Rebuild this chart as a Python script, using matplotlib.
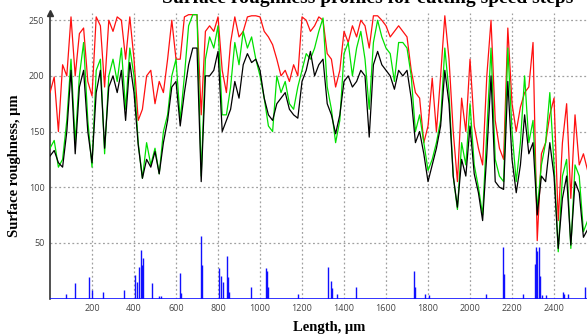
import matplotlib
matplotlib.use("Agg")
import matplotlib.pyplot as plt
import numpy as np

# profile sampled every 20 um along the trace
length = np.arange(0, 2561, 20)

red_profile = [185, 199, 150, 210, 200, 253, 200, 238, 243, 195,
               182, 253, 245, 190, 250, 240, 253, 250, 215, 253,
               215, 160, 170, 200, 205, 175, 195, 185, 215, 250,
               215, 215, 253, 255, 255, 255, 165, 240, 245, 240,
               253, 205, 185, 230, 253, 235, 240, 253, 254, 254,
               253, 240, 235, 228, 215, 200, 205, 195, 210, 200,
               253, 250, 240, 245, 253, 250, 220, 215, 190, 205,
               240, 230, 245, 235, 250, 245, 225, 254, 254, 250,
               245, 235, 240, 245, 240, 235, 205, 185, 180, 140,
               155, 198, 150, 200, 254, 215, 150, 105, 180, 150,
               215, 155, 135, 120, 200, 250, 160, 135, 125, 243,
               175, 150, 172, 185, 190, 230, 52, 130, 140, 165,
               180, 70, 140, 175, 90, 165, 120, 130, 115]

green_profile = [135, 142, 118, 125, 160, 215, 140, 200, 230, 160,
                 118, 205, 215, 130, 200, 215, 195, 225, 170, 225,
                 200, 140, 108, 140, 120, 135, 112, 150, 165, 200,
                 215, 160, 200, 245, 255, 255, 110, 215, 235, 225,
                 245, 165, 165, 190, 230, 210, 240, 225, 235, 215,
                 200, 180, 155, 150, 200, 185, 195, 175, 170, 190,
                 205, 220, 215, 225, 240, 252, 190, 170, 140, 160,
                 220, 230, 200, 225, 240, 215, 170, 230, 250, 235,
                 225, 220, 195, 230, 230, 225, 200, 150, 165, 140,
                 115, 125, 140, 160, 225, 185, 110, 80, 140, 120,
                 175, 120, 100, 75, 150, 225, 125, 110, 105, 225,
                 150, 105, 140, 200, 140, 160, 80, 120, 140, 185,
                 120, 42, 110, 125, 45, 120, 110, 60, 70]

black_profile = [128, 133, 122, 118, 150, 205, 130, 190, 205, 150,
                 122, 185, 205, 135, 190, 200, 185, 205, 160, 212,
                 185, 138, 108, 125, 118, 132, 112, 140, 160, 190,
                 195, 155, 185, 210, 225, 225, 105, 200, 200, 205,
                 222, 150, 160, 170, 195, 180, 210, 220, 212, 215,
                 205, 180, 165, 160, 175, 180, 185, 170, 165, 162,
                 195, 205, 222, 200, 210, 215, 175, 165, 148, 165,
                 195, 200, 190, 195, 205, 200, 145, 210, 222, 210,
                 205, 200, 188, 205, 200, 205, 180, 140, 150, 130,
                 105, 120, 135, 155, 205, 175, 110, 82, 125, 110,
                 155, 112, 95, 70, 130, 200, 105, 100, 98, 195,
                 125, 95, 120, 165, 130, 140, 75, 110, 105, 140,
                 110, 45, 90, 110, 48, 105, 95, 55, 62]

# isolated spikes of the bottom (blue) trace
spike_pos = [76, 119, 187, 198, 254, 354, 405, 415, 425, 433, 440, 445,
             487, 520, 530, 619, 625, 719, 722, 805, 815, 825, 841, 846,
             852, 957, 1029, 1034, 1040, 1179, 1322, 1336, 1344, 1365, 1457,
             1735, 1738, 1786, 1806, 2076, 2159, 2162, 2254, 2309, 2314,
             2320, 2327, 2333, 2341, 2360, 2441, 2447, 2468, 2547]
spike_height = [4, 14, 19, 8, 6, 8, 21, 15, 28, 44, 30, 36,
                14, 2, 2, 23, 5, 56, 30, 27, 20, 15, 38, 19,
                6, 10, 27, 25, 10, 4, 28, 16, 9, 4, 10,
                25, 10, 4, 3, 4, 46, 22, 4, 31, 46,
                43, 46, 20, 3, 3, 6, 4, 4, 10]

x_ticks = [200, 400, 600, 800, 1000, 1200, 1400, 1600, 1800, 2000, 2200, 2400]
y_ticks = [50, 100, 150, 200, 250]

W, H = 587, 336
fig = plt.figure(figsize=(W / 100, H / 100), dpi=100)
ax = fig.add_axes([50 / W, 37.5 / H, 558 / W, 285.5 / H])

ax.plot(length, red_profile, color="#ff1010", lw=0.9, zorder=3)
ax.plot(length, green_profile, color="#00e000", lw=0.9, zorder=4)
ax.plot(length, black_profile, color="black", lw=0.9, zorder=5)
ax.axhline(0, color="#1010ff", lw=1.2, zorder=3)
ax.vlines(spike_pos, 0, spike_height, color="#1010ff", lw=1.0, zorder=3)

ax.set_xlim(0, 2657)
ax.set_ylim(0, 256.5)
ax.set_xticks(x_ticks)
ax.set_yticks(y_ticks)
ax.tick_params(length=0, labelsize=6.5, labelcolor="#444444", pad=4)
for lab in ax.get_xticklabels() + ax.get_yticklabels():
    lab.set_family("Open Sans")

ax.grid(True, color="#a0a0a0", lw=0.9, linestyle=(0, (1.5, 2)))
for side in ["top", "right", "bottom"]:
    ax.spines[side].set_visible(False)
ax.spines["left"].set_color("#333333")
ax.spines["left"].set_linewidth(1.2)
ax.plot([0], [1], marker="^", ms=4, color="#333333", transform=ax.transAxes,
        clip_on=False, zorder=6)

serif = dict(family="Liberation Serif", fontweight="bold", fontsize=10.5)
fig.text(15 / W, 1 - 166 / H, "Surface roughness, \u00b5m", rotation=90,
         ha="center", va="center", **serif)
fig.text(329 / W, 1 - 327 / H, "Length, \u00b5m", ha="center", va="center", **serif)
# chart title sits mostly above the top edge, only its lower part shows
fig.text(368 / W, 1 - 3 / H, "Surface roughness profiles for cutting speed steps",
         ha="center", va="baseline", family="Liberation Serif",
         fontweight="bold", fontsize=14)

fig.savefig("out.png", dpi=100)
